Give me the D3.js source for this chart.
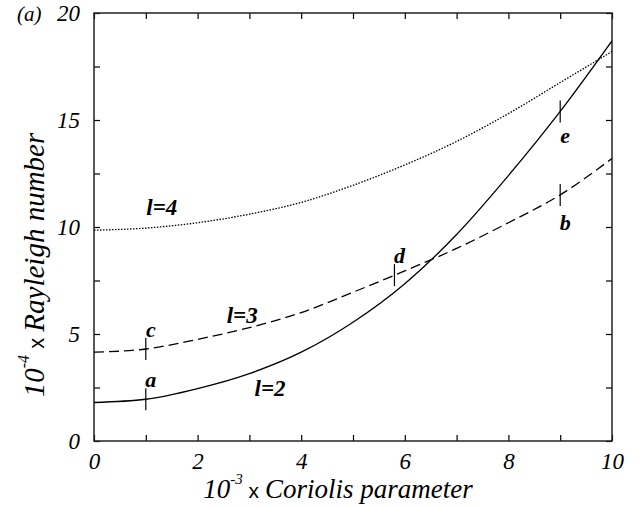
<!DOCTYPE html>
<html>
<head>
<meta charset="utf-8">
<script src="https://cdn.jsdelivr.net/npm/d3@7"></script>
<style>
  body { margin: 0; background: #fff; }
  svg { display: block; }
  .tick text { font-family: "Liberation Serif", serif; font-style: italic; font-size: 23px; fill: #000; }
</style>
</head>
<body>
<div id="chart"></div>
<script>
var width = 641;
var height = 506;

// Coriolis parameter (x 10^-3)
var coriolis = [0, 1, 2, 3, 4, 5, 6, 7, 8, 9, 10];
// Rayleigh number (x 10^-4) for each mode l
var ra_l2 = [1.8, 1.95, 2.45, 3.15, 4.15, 5.55, 7.35, 9.65, 12.4, 15.4, 18.7];
var ra_l3 = [4.15, 4.3, 4.75, 5.3, 6.0, 6.95, 7.95, 9.0, 10.2, 11.5, 13.2];
var ra_l4 = [9.85, 9.95, 10.2, 10.6, 11.15, 11.95, 12.9, 14.0, 15.3, 16.75, 18.2];

// marked states a-e
var markNames = ["a", "b", "c", "d", "e"];
var markX = [1, 9, 1, 5.8, 9];
var markY = [1.95, 11.5, 4.3, 7.75, 15.4];

var xTicks = [0, 1, 2, 3, 4, 5, 6, 7, 8, 9, 10];
var yTicks = [0, 2.5, 5, 7.5, 10, 12.5, 15, 17.5, 20];

var svg = d3.select("#chart")
  .append("svg")
  .attr("width", width)
  .attr("height", height);

var x = d3.scaleLinear().domain([0, 10]).range([94, 612]);
var y = d3.scaleLinear().domain([0, 20]).range([441, 13]);

// axes, ticks pointing inward on all sides
svg.append("g")
  .attr("transform", "translate(0,441)")
  .call(d3.axisBottom(x).tickValues(xTicks).tickSize(-6).tickPadding(12)
    .tickFormat(function(d){ return d % 2 === 0 ? d : ""; }));

svg.append("g")
  .attr("transform", "translate(0,13)")
  .call(d3.axisTop(x).tickValues(xTicks).tickSize(-6).tickFormat(""));

svg.append("g")
  .attr("transform", "translate(94,0)")
  .call(d3.axisLeft(y).tickValues(yTicks).tickSize(-6).tickPadding(14)
    .tickFormat(function(d){ return d % 5 === 0 ? d : ""; }));

svg.append("g")
  .attr("transform", "translate(612,0)")
  .call(d3.axisRight(y).tickValues(yTicks).tickSize(-6).tickFormat(""));

svg.selectAll(".domain").remove();
svg.selectAll(".tick line").attr("stroke", "#000").attr("stroke-width", 1.2);
svg.selectAll(".tick text").attr("font-family", null).attr("font-size", null);

svg.append("rect")
  .attr("x", x(0)).attr("y", y(20))
  .attr("width", x(10) - x(0)).attr("height", y(0) - y(20))
  .attr("fill", "none").attr("stroke", "#222").attr("stroke-width", 1.5);

svg.append("clipPath").attr("id", "clip")
  .append("rect")
  .attr("x", x(0)).attr("y", y(20))
  .attr("width", x(10) - x(0)).attr("height", y(0) - y(20));

var line = d3.line()
  .x(function(d){ return x(d[0]); })
  .y(function(d){ return y(d[1]); })
  .curve(d3.curveMonotoneX);

var series = [
  { vals: ra_l2, dash: null },
  { vals: ra_l3, dash: "10,5" },
  { vals: ra_l4, dash: "1.5,1.5" }
];

svg.append("g").attr("clip-path", "url(#clip)")
  .selectAll("path")
  .data(series)
  .enter()
  .append("path")
  .attr("d", function(s){ return line(d3.zip(coriolis, s.vals)); })
  .attr("fill", "none")
  .attr("stroke", "#000")
  .attr("stroke-width", 1.3)
  .attr("stroke-dasharray", function(s){ return s.dash; });

// curve labels
var labelFont = "Liberation Serif";
var curveLabels = [
  { t: "l=4", x: 1.31, y: 10.56 },
  { t: "l=3", x: 2.86, y: 5.5 },
  { t: "l=2", x: 3.4, y: 2.1 }
];
svg.selectAll(".clabel")
  .data(curveLabels)
  .enter()
  .append("text")
  .attr("class", "clabel")
  .attr("x", function(d){ return x(d.x); })
  .attr("y", function(d){ return y(d.y); })
  .attr("text-anchor", "middle")
  .attr("font-family", labelFont)
  .attr("font-style", "italic")
  .attr("font-weight", "bold")
  .attr("font-size", "23px")
  .text(function(d){ return d.t; });

// markers
var marks = d3.range(markNames.length).map(function(i){
  return { n: markNames[i], x: markX[i], y: markY[i] };
});
var below = { b: 35, e: 32 };

svg.selectAll(".mark")
  .data(marks)
  .enter()
  .append("line")
  .attr("class", "mark")
  .attr("x1", function(d){ return x(d.x); })
  .attr("x2", function(d){ return x(d.x); })
  .attr("y1", function(d){ return y(d.y) - 11; })
  .attr("y2", function(d){ return y(d.y) + 11; })
  .attr("stroke", "#000")
  .attr("stroke-width", 1.2);

svg.selectAll(".mlabel")
  .data(marks)
  .enter()
  .append("text")
  .attr("class", "mlabel")
  .attr("x", function(d){ return x(d.x) + 5; })
  .attr("y", function(d){ return y(d.y) + (below[d.n] || -12); })
  .attr("text-anchor", "middle")
  .attr("font-family", labelFont)
  .attr("font-style", "italic")
  .attr("font-weight", "bold")
  .attr("font-size", "22px")
  .text(function(d){ return d.n; });

// axis titles
var xt = svg.append("text")
  .attr("x", 338).attr("y", 498)
  .attr("text-anchor", "middle")
  .attr("font-family", labelFont)
  .attr("font-style", "italic")
  .attr("font-size", "27px");
xt.append("tspan").text("10");
xt.append("tspan").attr("dy", -14).attr("font-size", "15px").text("-3");
xt.append("tspan").attr("dy", 14).attr("font-family", "Liberation Sans").attr("font-style", "normal").attr("font-size", "21px").text(" x ");
xt.append("tspan").text("Coriolis parameter");

var yt = svg.append("text")
  .attr("transform", "translate(44,265) rotate(-90)")
  .attr("text-anchor", "middle")
  .attr("font-family", labelFont)
  .attr("font-style", "italic")
  .attr("font-size", "29px");
yt.append("tspan").text("10");
yt.append("tspan").attr("dy", -15).attr("font-size", "16px").text("-4");
yt.append("tspan").attr("dy", 15).attr("font-family", "Liberation Sans").attr("font-style", "normal").attr("font-size", "22px").text(" x ");
yt.append("tspan").text("Rayleigh number");

svg.append("text")
  .attr("x", 17).attr("y", 21)
  .attr("font-family", labelFont)
  .attr("font-style", "italic")
  .attr("font-size", "21px")
  .text("(a)");
</script>
</body>
</html>
